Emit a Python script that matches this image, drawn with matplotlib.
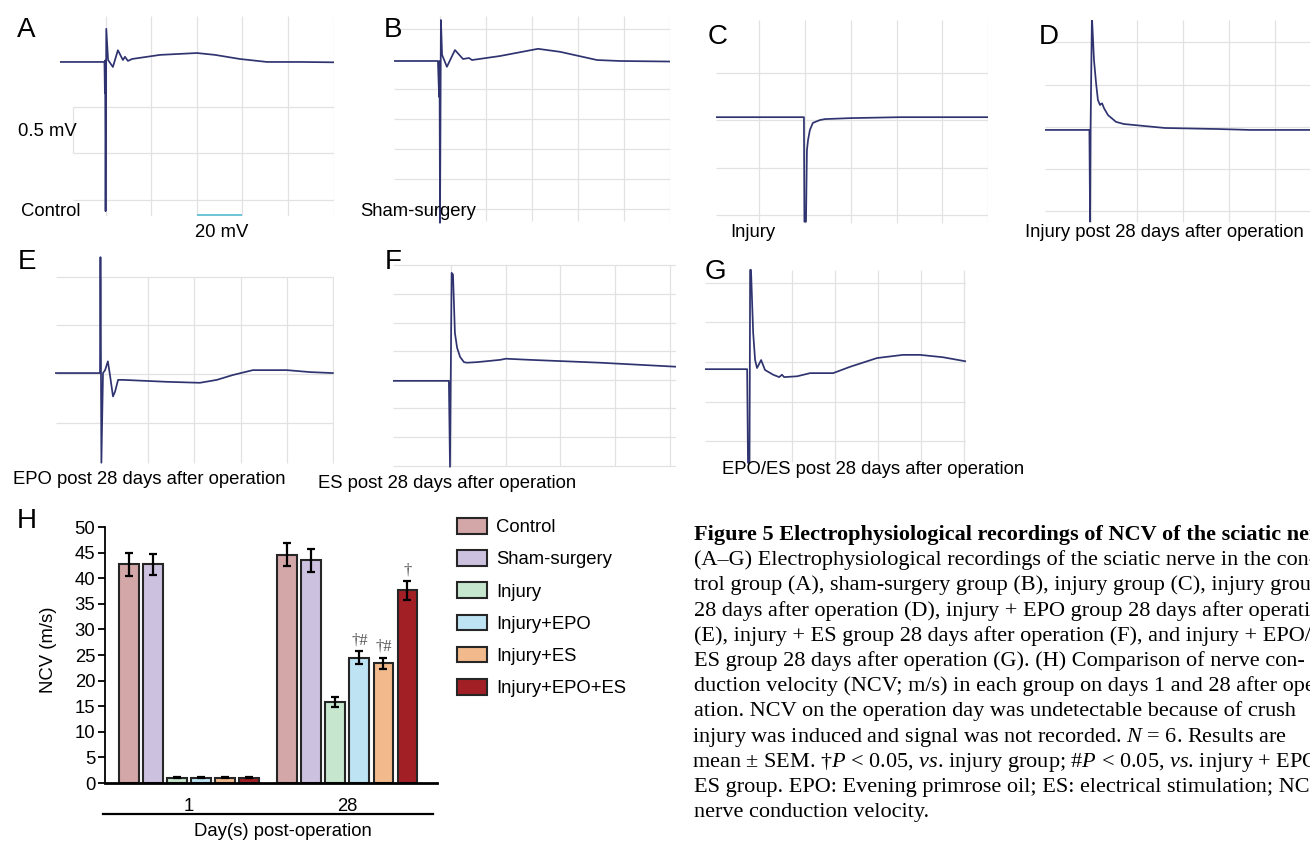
import matplotlib
matplotlib.use("Agg")
import matplotlib.pyplot as plt
from matplotlib.patches import Patch
from matplotlib.lines import Line2D

plt.rcParams['font.family'] = ['Liberation Sans', 'DejaVu Sans']
plt.rcParams['mathtext.fontset'] = 'custom'
plt.rcParams['mathtext.rm'] = 'Liberation Serif'
plt.rcParams['mathtext.it'] = 'Liberation Serif:italic'

# ---- recordings (time in ms, voltage in mV) ----
a_time = [0, 19.5, 19.7, 19.8, 20.0, 20.3, 21.1, 23.2, 25.4, 27.6, 28.5, 29.8, 31.6,
          43.9, 60.1, 68.0, 78.9, 90.8, 105.3, 120.2]
a_volt = [-0.016, -0.016, -0.35, 0.0, -1.62, 0.34, 0.005, -0.07, 0.11, 0.005, 0.04,
          -0.005, 0.016, 0.06, 0.08, 0.06, 0.016, -0.016, -0.016, -0.02]

b_time = [0, 19.1, 19.6, 19.8, 20.0, 20.4, 20.9, 23.0, 26.5, 30.0, 32.6, 33.9,
          46.1, 62.6, 72.2, 88.3, 98.3, 120]
b_volt = [-0.033, -0.033, -0.63, -0.033, -2.73, 0.65, 0.07, -0.13, 0.15, 0.0, 0.017,
          -0.017, 0.05, 0.17, 0.12, -0.017, -0.033, -0.042]

c_time = [1.1, 39.5, 39.7, 40.4, 40.8, 41.3, 42.1, 43.4, 46.5, 48.7, 59.6, 81.4, 120]
c_volt = [0.03, 0.03, -1.07, -1.07, -0.32, -0.21, -0.105, -0.03, 0.0, 0.01, 0.02,
          0.03, 0.03]

d_time = [0, 19.3, 19.6, 19.8, 20.4, 21.3, 22.2, 23.0, 23.9, 24.3, 24.8, 25.7, 27.4,
          30.9, 34.3, 43.0, 52.2, 74.8, 89.1, 115.2]
d_volt = [-0.035, -0.035, -1.12, -0.035, 1.31, 0.79, 0.52, 0.32, 0.26, 0.27, 0.28,
          0.22, 0.14, 0.06, 0.035, 0.012, -0.012, -0.024, -0.035, -0.035]

e_time = [0.4, 19.4, 19.6, 20.0, 20.7, 21.6, 22.8, 23.7, 25.0, 25.9, 27.2, 29.3,
          48.3, 62.5, 69.8, 76.7, 85.3, 100, 109.9, 119.8]
e_volt = [0.01, 0.01, 1.2, -0.91, 0.01, 0.04, 0.13, -0.01, -0.23, -0.18, -0.06,
          -0.06, -0.08, -0.09, -0.06, -0.01, 0.04, 0.04, 0.02, 0.01]

f_time = [-1.1, 19.3, 19.7, 20.3, 20.8, 21.5, 22.3, 23.4, 24.8, 25.9, 29.6, 38.0,
          40.1, 48.9, 74.5, 102.2]
f_volt = [-0.017, -0.017, -1.52, 1.87, 1.84, 0.82, 0.56, 0.40, 0.31, 0.30, 0.31,
          0.35, 0.37, 0.35, 0.30, 0.23]

g_time = [-0.5, 19.1, 19.5, 20.2, 20.5, 20.9, 21.9, 22.8, 23.7, 25.6, 27.4, 31.2,
          34.0, 35.3, 36.3, 42.3, 48.4, 59.1, 67.0, 79.5, 91.6, 99.5, 110.2, 120.5]
g_volt = [-0.09, -0.09, -1.27, -1.27, 1.16, 1.16, 0.37, 0.025, -0.076, 0.025, -0.10,
          -0.16, -0.19, -0.16, -0.19, -0.18, -0.14, -0.14, -0.06, 0.05, 0.09, 0.09,
          0.06, 0.01]

# ---- nerve conduction velocity (m/s) ----
days = ['1', '28']
groups = ['Control', 'Sham-surgery', 'Injury', 'Injury+EPO', 'Injury+ES', 'Injury+EPO+ES']
ncv_day1 = [42.7, 42.7, 1.0, 1.0, 1.0, 1.0]
ncv_day28 = [44.6, 43.5, 15.8, 24.5, 23.4, 37.6]
sem_day1 = [2.2, 2.1, 0.1, 0.1, 0.1, 0.1]
sem_day28 = [2.3, 2.3, 0.9, 1.2, 1.1, 1.8]
marks_day28 = ['', '', '', '†#', '†#', '†']

bar_colors = ['#d3a6a8', '#cdc1e0', '#c6e6cd', '#bee4f4', '#f1b98c', '#a11f25']

caption = [
    "Figure 5 Electrophysiological recordings of NCV of the sciatic nerve",
    "(A–G) Electrophysiological recordings of the sciatic nerve in the con-",
    "trol group (A), sham-surgery group (B), injury group (C), injury group",
    "28 days after operation (D), injury + EPO group 28 days after operation",
    "(E), injury + ES group 28 days after operation (F), and injury + EPO/",
    "ES group 28 days after operation (G). (H) Comparison of nerve con-",
    "duction velocity (NCV; m/s) in each group on days 1 and 28 after oper-",
    "ation. NCV on the operation day was undetectable because of crush",
    r"injury was induced and signal was not recorded. $\mathit{N}$ = 6. Results are",
    r"mean ± SEM. †$\mathit{P}$ < 0.05, $\mathit{vs}$. injury group; #$\mathit{P}$ < 0.05, $\mathit{vs}$. injury + EPO/",
    "ES group. EPO: Evening primrose oil; ES: electrical stimulation; NCV:",
    "nerve conduction velocity.",
]

W, H = 1310, 842
fig = plt.figure(figsize=(W / 100, H / 100), dpi=100)
TRACE = '#2f3470'
GRID = '#e2e2e2'
FS = 13.3


def px_axes(x0, y0, x1, y1):
    return fig.add_axes([x0 / W, 1 - y1 / H, (x1 - x0) / W, (y1 - y0) / H])


def ftext(x, y, s, **kw):
    kw.setdefault('va', 'center')
    kw.setdefault('fontsize', FS)
    return fig.text(x / W, 1 - y / H, s, **kw)


def trace_panel(box, xlim, ylim, t, v, hgrid, hx, vgrid, vy):
    ax = px_axes(*box)
    ax.set_xlim(*xlim)
    ax.set_ylim(*ylim)
    ax.axis('off')
    ax.hlines(hgrid, hx[0], hx[1], color=GRID, lw=0.9, zorder=1)
    ax.vlines(vgrid, vy[0], vy[1], color=GRID, lw=0.9, zorder=1)
    ax.plot(t, v, color=TRACE, lw=1.25, zorder=3, clip_on=True)
    return ax


tgrid = [20, 40, 60, 80, 100, 120]
ax_a = trace_panel((60, 16, 334, 216), (0, 120.2), (-1.672, 0.478), a_time, a_volt,
                   [-0.5, -1.0, -1.5], (5.7, 120.2), tgrid, (-1.672, 0.478))
ax_a.vlines(5.7, -1.0, -0.5, color=GRID, lw=0.9)
ax_a.hlines(-1.66, 60, 80, color='#6cc4d6', lw=1.4, clip_on=False, zorder=4)

trace_panel((394, 16, 670, 225), (0, 120), (-2.767, 0.717), b_time, b_volt,
            [0.5, -0.5, -1.0, -1.5, -2.0, -2.5], (0, 120), tgrid, (-2.7, 0.717))
trace_panel((716, 20, 988, 225), (1.09, 119.9), (-1.105, 1.053), c_time, c_volt,
            [0.5, 0.0, -0.5, -1.0], (1.09, 119.9), tgrid, (-1.08, 1.053))
trace_panel((1045, 20, 1310, 225), (0, 115.2), (-1.16, 1.266), d_time, d_volt,
            [1.0, 0.5, 0.0, -0.5, -1.0], (0, 115.2), tgrid, (-1.12, 1.266))
trace_panel((55, 255, 334, 465), (0, 120.3), (-0.934, 1.222), e_time, e_volt,
            [1.0, 0.5, 0.0, -0.5], (0.4, 119.8), tgrid, (-0.91, 1.0))
trace_panel((393, 262, 676, 468), (-1.1, 102.2), (-1.54, 2.06), f_time, f_volt,
            [2.0, 1.5, 1.0, 0.5, 0.0, -0.5, -1.0, -1.5], (-1.1, 102.2),
            [20, 40, 60, 80, 100], (-1.5, 2.0))
trace_panel((705, 268, 966, 465), (-0.5, 120.9), (-1.297, 1.184), g_time, g_volt,
            [1.0, 0.5, 0.0, -0.5, -1.0], (-0.5, 120.9), tgrid, (-1.26, 1.16))

# panel letters and labels
for letter, x, y in [('A', 17, 30), ('B', 384, 30), ('C', 708, 37), ('D', 1039, 37),
                     ('E', 18, 262), ('F', 385, 262), ('G', 705, 272), ('H', 17, 521)]:
    ftext(x, y, letter, fontsize=20)

ftext(18, 131, '0.5 mV')
ftext(21, 211, 'Control')
ftext(222, 233, '20 mV', ha='center')
ftext(360, 211, 'Sham-surgery')
ftext(730, 233, 'Injury')
ftext(1025, 233, 'Injury post 28 days after operation')
ftext(13, 480, 'EPO post 28 days after operation')
ftext(318, 484, 'ES post 28 days after operation')
ftext(722, 470, 'EPO/ES post 28 days after operation')

# ---- H: bar chart ----
ax = px_axes(105, 527, 437, 783)
step = 6.6
width = 0.83
for g, (vals, errs) in enumerate([(ncv_day1, sem_day1), (ncv_day28, sem_day28)]):
    xs = [g * step + i for i in range(len(groups))]
    ax.bar(xs, vals, width, color=bar_colors, edgecolor='#262626', linewidth=1.5,
           yerr=errs, error_kw=dict(ecolor='black', elinewidth=1.6, capsize=3.2,
                                    capthick=1.6), zorder=2)
    if g == 1:
        for x, v, e, m in zip(xs, vals, errs, marks_day28):
            if m:
                ax.annotate(m, (x, v + e), xytext=(0, 2), textcoords='offset points',
                            ha='center', va='bottom', fontsize=12, color='#555555',
                            family='Liberation Serif')

ax.set_xlim(-1.0, 12.83)
ax.set_ylim(0, 50)
ax.set_yticks(range(0, 51, 5))
ax.set_xticks([2.5, step + 2.5])
ax.set_xticklabels(days)
ax.tick_params(axis='x', length=0, pad=11, labelsize=FS)
ax.tick_params(axis='y', length=5, width=1.3, pad=2, labelsize=FS)
for s in ['top', 'right']:
    ax.spines[s].set_visible(False)
ax.spines['left'].set_linewidth(1.3)
ax.spines['bottom'].set_linewidth(2.0)
ax.set_ylabel('NCV (m/s)', fontsize=FS)
ax.yaxis.set_label_coords(-0.145, 0.52)
ax.add_line(Line2D([-0.006, 0.988], [-0.121, -0.121], transform=ax.transAxes,
                   color='black', lw=1.6, clip_on=False))
ftext(283, 832, 'Day(s) post-operation', ha='center')

handles = [Patch(facecolor=c, edgecolor='#262626', linewidth=1.5) for c in bar_colors]
fig.legend(handles, groups, loc='upper left', bbox_to_anchor=(457 / W, 1 - 518 / H),
           frameon=False, fontsize=FS, handlelength=1.62, handleheight=0.92,
           labelspacing=0.76, handletextpad=0.5, borderpad=0, borderaxespad=0)

# ---- caption (clipped at the right edge, as in the printed page) ----
for i, line in enumerate(caption):
    x0 = 692 if '$' in line else 694  # mathtext lines carry a small left bearing
    ftext(x0, 540 + 25.2 * i, line, fontsize=16, family='Liberation Serif',
          va='baseline', fontweight='bold' if i == 0 else 'normal')

fig.savefig('out.png', dpi=100)
